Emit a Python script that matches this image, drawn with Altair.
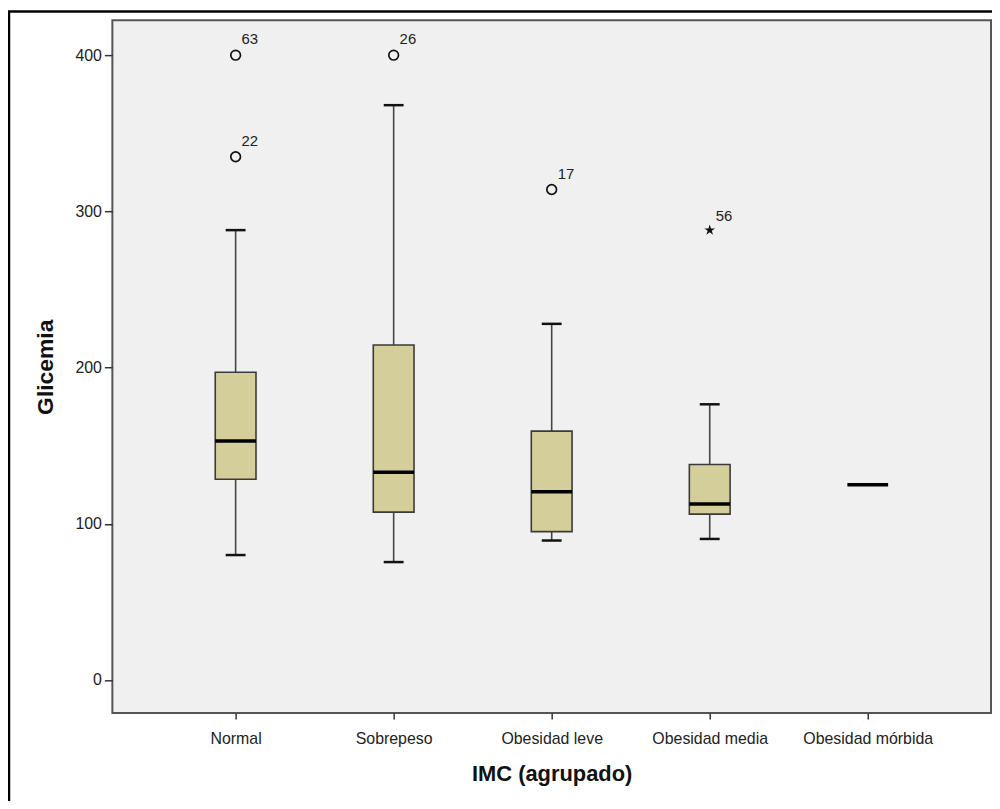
import altair as alt
import pandas as pd

# ---- data ----
categories = ["Normal", "Sobrepeso", "Obesidad leve", "Obesidad media", "Obesidad mórbida"]
whisker_low = [80, 75.5, 89.3, 90.3, None]
box_q1 = [128.5, 107.5, 95, 106.2, None]
box_median = [153, 133, 120.5, 112.6, 125]
box_q3 = [197, 214.5, 159.3, 138, None]
whisker_high = [288, 368, 228, 176.5, None]

outlier_cat = ["Normal", "Normal", "Sobrepeso", "Obesidad leve"]
outlier_val = [400, 335, 400, 314]
outlier_id = ["63", "22", "26", "17"]

extreme_cat = ["Obesidad media"]
extreme_val = [288]
extreme_id = ["56"]

y_ticks = [0, 100, 200, 300, 400]

# ---- tables ----
stats = pd.DataFrame({
    "cat": categories, "lo": whisker_low, "q1": box_q1, "med": box_median,
    "q3": box_q3, "hi": whisker_high,
})
boxes = stats.dropna()
outliers = pd.DataFrame({"cat": outlier_cat, "val": outlier_val, "id": outlier_id})
extremes = pd.DataFrame({"cat": extreme_cat, "val": extreme_val, "id": extreme_id})

FONT = "Liberation Sans"
x_enc = alt.X(
    "cat:N", sort=categories,
    scale=alt.Scale(type="point", padding=0.78, domain=categories),
    axis=alt.Axis(title="IMC (agrupado)", labelAngle=0, domain=False, tickSize=6,
                  tickColor="#333", tickWidth=1.5, labelPadding=12,
                  labelFontSize=16, labelColor="#222", titleFontSize=22,
                  titleFontWeight="bold", titleColor="#111", titlePadding=17),
)
y_scale = alt.Scale(domain=[-21.2, 422.3], nice=False, zero=False)
y_axis = alt.Axis(title="Glicemia", values=y_ticks, grid=False, domain=False,
                  tickSize=8, tickColor="#333", tickWidth=1.5, labelPadding=3,
                  labelFontSize=16, labelColor="#222", titleFontSize=23,
                  titleFontWeight="bold", titleColor="#111", titlePadding=18)

base_box = alt.Chart(boxes)

whisk_lo = base_box.mark_rule(color="#444", strokeWidth=1.6).encode(
    x=x_enc, y=alt.Y("lo:Q", scale=y_scale, axis=y_axis), y2="q1:Q")
whisk_hi = base_box.mark_rule(color="#444", strokeWidth=1.6).encode(
    x=x_enc, y=alt.Y("q3:Q", scale=y_scale), y2="hi:Q")
cap_lo = base_box.mark_tick(size=20, thickness=2.5, color="#111", opacity=1).encode(
    x=x_enc, y=alt.Y("lo:Q", scale=y_scale))
cap_hi = base_box.mark_tick(size=20, thickness=2.5, color="#111", opacity=1).encode(
    x=x_enc, y=alt.Y("hi:Q", scale=y_scale))
box = base_box.mark_bar(size=41, fill="#d4cf9a", stroke="#3a3a3a", strokeWidth=1.6).encode(
    x=x_enc, y=alt.Y("q1:Q", scale=y_scale), y2="q3:Q")
median = alt.Chart(stats).mark_tick(size=41, thickness=3.5, color="#000", opacity=1).encode(
    x=x_enc, y=alt.Y("med:Q", scale=y_scale))

out_pts = alt.Chart(outliers).mark_point(shape="circle", filled=False, size=95,
                                         strokeWidth=1.7, color="#111", opacity=1).encode(
    x=x_enc, y=alt.Y("val:Q", scale=y_scale))
out_txt = alt.Chart(outliers).mark_text(align="left", baseline="alphabetic", dx=6, dy=-11,
                                        fontSize=15, color="#222", font=FONT).encode(
    x=x_enc, y=alt.Y("val:Q", scale=y_scale), text="id:N")

star = ("M0,-1L0.2245,-0.309L0.951,-0.309L0.363,0.118L0.588,0.809L0,0.382"
        "L-0.588,0.809L-0.363,0.118L-0.951,-0.309L-0.2245,-0.309Z")
ext_pts = alt.Chart(extremes).mark_point(shape=star, filled=True, size=130,
                                         color="#111", opacity=1).encode(
    x=x_enc, y=alt.Y("val:Q", scale=y_scale))
ext_txt = alt.Chart(extremes).mark_text(align="left", baseline="alphabetic", dx=6, dy=-9,
                                        fontSize=15, color="#222", font=FONT).encode(
    x=x_enc, y=alt.Y("val:Q", scale=y_scale), text="id:N")

frame = alt.Chart(pd.DataFrame({"a": [0]})).mark_rect(
    fillOpacity=0, stroke="#000", strokeWidth=2.5).encode(
    x=alt.value(-104), x2=alt.value(1000), y=alt.value(-9), y2=alt.value(900))

chart = alt.layer(
    frame, whisk_lo, whisk_hi, cap_lo, cap_hi, box, median,
    out_pts, out_txt, ext_pts, ext_txt,
).properties(
    width=884, height=697,
    padding={"left": 105, "top": 10, "right": 1, "bottom": 86},
    autosize=alt.AutoSizeParams(type="none"),
).configure(
    font=FONT, background="white",
).configure_view(
    fill="#f0f0f0", stroke="#555", strokeWidth=2,
)

chart.save("out.html", embed_options={"renderer": "svg", "actions": False})
